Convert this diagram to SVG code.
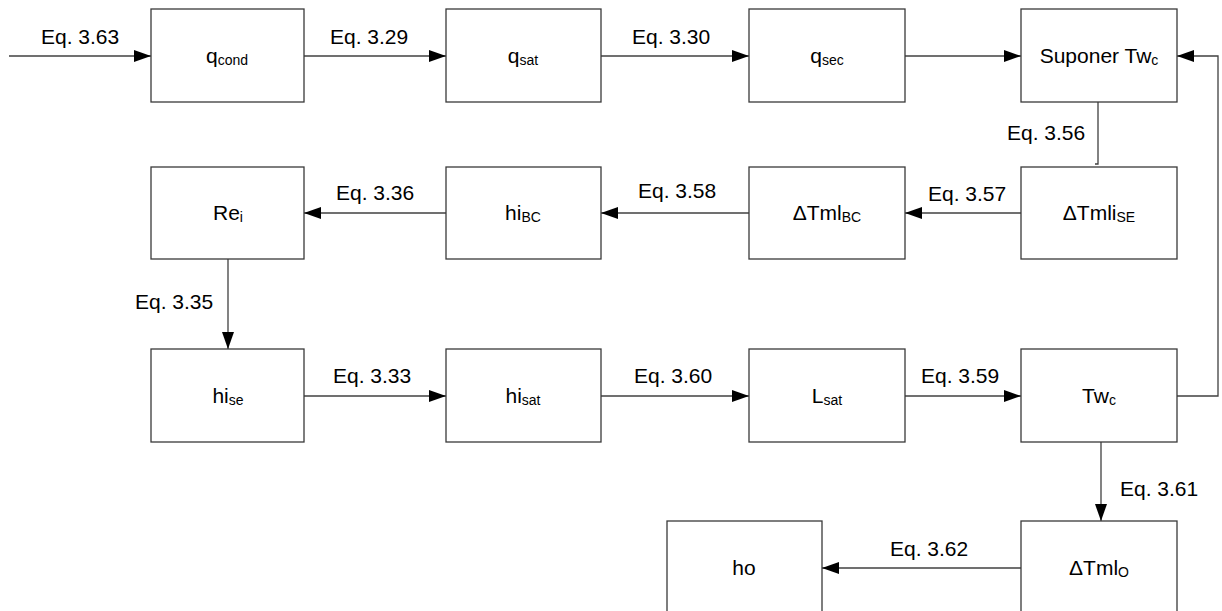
<svg xmlns="http://www.w3.org/2000/svg" width="1222" height="611" viewBox="0 0 1222 611">
<style>
.box{fill:#fff;stroke:#3a3a3a;stroke-width:1.3}
.c{fill:none;stroke:#404040;stroke-width:1.3}
text{font-family:"Liberation Sans",Arial,sans-serif;font-size:21px;fill:#000}
.n{text-anchor:middle}
.s{font-size:14px}
</style>
<defs>
<marker id="ah" markerUnits="userSpaceOnUse" markerWidth="18" markerHeight="13" refX="17" refY="6" orient="auto">
<path d="M0,0 L17,6 L0,12 Z" fill="#000"/>
</marker>
</defs>
<rect width="1222" height="611" fill="#fff"/>
<g id="connectors">
<path class="c" d="M9,56 H151" marker-end="url(#ah)"/>
<path class="c" d="M304,56 H446" marker-end="url(#ah)"/>
<path class="c" d="M601,56 H749" marker-end="url(#ah)"/>
<path class="c" d="M905,56 H1021" marker-end="url(#ah)"/>
<path class="c" d="M1098,102 V164 H1095"/>
<path class="c" d="M1021,213 H905" marker-end="url(#ah)"/>
<path class="c" d="M749,213 H601" marker-end="url(#ah)"/>
<path class="c" d="M446,213 H304" marker-end="url(#ah)"/>
<path class="c" d="M228,259 V349" marker-end="url(#ah)"/>
<path class="c" d="M304,396 H446" marker-end="url(#ah)"/>
<path class="c" d="M601,396 H749" marker-end="url(#ah)"/>
<path class="c" d="M905,396 H1021" marker-end="url(#ah)"/>
<path class="c" d="M1177,396 H1218 V56 H1177" marker-end="url(#ah)"/>
<path class="c" d="M1101,442 V521" marker-end="url(#ah)"/>
<path class="c" d="M1021,568 H822" marker-end="url(#ah)"/>
<text x="41" y="44">Eq. 3.63</text>
<text x="330" y="44">Eq. 3.29</text>
<text x="632" y="44">Eq. 3.30</text>
<text x="1007" y="140">Eq. 3.56</text>
<text x="336" y="200">Eq. 3.36</text>
<text x="638" y="198">Eq. 3.58</text>
<text x="928" y="201">Eq. 3.57</text>
<text x="135" y="309">Eq. 3.35</text>
<text x="333" y="383">Eq. 3.33</text>
<text x="634" y="383">Eq. 3.60</text>
<text x="921" y="383">Eq. 3.59</text>
<text x="1120" y="496">Eq. 3.61</text>
<text x="890" y="556">Eq. 3.62</text>
</g>
<g id="n_qcond"><rect class="box" x="151" y="9" width="153" height="93"/><text class="n" x="227" y="63">q<tspan class="s" dy="2">cond</tspan></text></g>
<g id="n_qsat"><rect class="box" x="446" y="9" width="155" height="93"/><text class="n" x="523" y="63">q<tspan class="s" dy="2">sat</tspan></text></g>
<g id="n_qsec"><rect class="box" x="749" y="9" width="156" height="93"/><text class="n" x="827" y="63">q<tspan class="s" dy="2">sec</tspan></text></g>
<g id="n_suponer"><rect class="box" x="1021" y="9" width="156" height="93"/><text class="n" x="1099" y="63">Suponer Tw<tspan class="s" dy="2">c</tspan></text></g>
<g id="n_rei"><rect class="box" x="151" y="167" width="153" height="92"/><text class="n" x="228" y="220">Re<tspan class="s" dy="2">i</tspan></text></g>
<g id="n_hibc"><rect class="box" x="446" y="167" width="155" height="92"/><text class="n" x="523" y="220">hi<tspan class="s" dy="2">BC</tspan></text></g>
<g id="n_dtmlbc"><rect class="box" x="749" y="167" width="156" height="92"/><text class="n" x="827" y="220">ΔTml<tspan class="s" dy="2">BC</tspan></text></g>
<g id="n_dtmlise"><rect class="box" x="1021" y="167" width="156" height="92"/><text class="n" x="1099" y="220">ΔTmli<tspan class="s" dy="2">SE</tspan></text></g>
<g id="n_hise"><rect class="box" x="151" y="349" width="153" height="93"/><text class="n" x="228" y="403">hi<tspan class="s" dy="2">se</tspan></text></g>
<g id="n_hisat"><rect class="box" x="446" y="349" width="155" height="93"/><text class="n" x="523" y="403">hi<tspan class="s" dy="2">sat</tspan></text></g>
<g id="n_lsat"><rect class="box" x="749" y="349" width="156" height="93"/><text class="n" x="827" y="403">L<tspan class="s" dy="2">sat</tspan></text></g>
<g id="n_twc"><rect class="box" x="1021" y="349" width="156" height="93"/><text class="n" x="1099" y="403">Tw<tspan class="s" dy="2">c</tspan></text></g>
<g id="n_ho"><rect class="box" x="667" y="521" width="155" height="93"/><text class="n" x="744" y="575">ho</text></g>
<g id="n_dtmlo"><rect class="box" x="1021" y="521" width="156" height="93"/><text class="n" x="1099" y="575">ΔTml<tspan class="s" dy="2">O</tspan></text></g>
</svg>
